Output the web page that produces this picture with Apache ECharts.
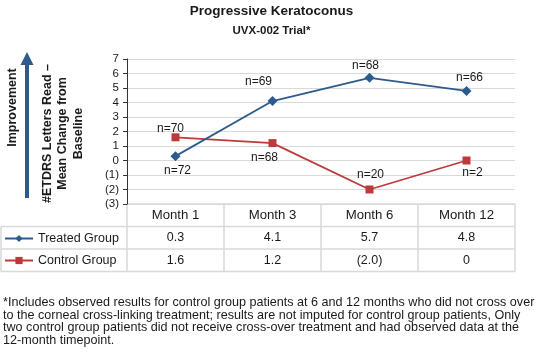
<!DOCTYPE html>
<html>
<head>
<meta charset="utf-8">
<script src="https://cdn.jsdelivr.net/npm/echarts@6/dist/echarts.min.js"></script>
<style>html,body{margin:0;padding:0;background:#fff}#c{width:543px;height:363px}</style>
</head>
<body>
<div id="c"></div>
<script>
const categories = ['Month 1', 'Month 3', 'Month 6', 'Month 12'];
const treatedValues = [0.3, 4.1, 5.7, 4.8];
const controlValues = [1.6, 1.2, -2.0, 0];
const treatedN = [72, 69, 68, 66];
const controlN = [70, 68, 20, 2];
const yMin = -3, yMax = 7, yInterval = 1;
const seriesNames = ['Treated Group', 'Control Group'];
const titleText = 'Progressive Keratoconus';
const subtitleText = 'UVX-002 Trial*';
const yAxisTitle = '#ETDRS Letters Read \u2013\nMean Change from\nBaseline';
const arrowText = 'Improvement';
const footnote = '*Includes observed results for control group patients at 6 and 12 months who did not cross over\nto the corneal cross-linking treatment; results are not imputed for control group patients, Only\ntwo control group patients did not receive cross-over treatment and had observed data at the\n12-month timepoint.';

// label layout (style only)
const treatedLabelLayout = [['bottom', [2, -1]], ['top', [-14, -3]], ['top', [-4, 4]], ['top', [3, 3]]];
const controlLabelLayout = [['top', [-5, 6]], ['bottom', [-8, 0]], ['top', [1, 0]], ['bottom', [6, -3]]];

const FONT = '"Liberation Sans", Arial, Helvetica, sans-serif';
const BLUE = '#2d5b8b';
const RED = '#be3a3a';
const GRID_GREY = '#d9d9d9';
const TEXT = '#1a1a1a';

function fmtTable(v) {
  if (v < 0) return '(' + Math.abs(v).toFixed(1) + ')';
  if (v === 0) return '0';
  return v.toFixed(1);
}
function fmtAxis(v) {
  return v < 0 ? '(' + Math.abs(v) + ')' : String(v);
}

const chart = echarts.init(document.getElementById('c'), null, {renderer: 'canvas'});

function mkData(vals, layout) {
  return vals.map((v, i) => ({
    value: v,
    label: {position: layout[i][0], offset: layout[i][1]}
  }));
}

chart.setOption({
  animation: false,
  textStyle: {fontFamily: FONT},
  title: {
    text: titleText,
    subtext: subtitleText,
    left: 'center',
    top: -1,
    itemGap: 7,
    textStyle: {fontFamily: FONT, fontSize: 13.5, fontWeight: 'bold', color: TEXT},
    subtextStyle: {fontFamily: FONT, fontSize: 11.5, fontWeight: 'bold', color: TEXT}
  },
  legend: {
    orient: 'vertical',
    left: 4,
    top: 232,
    padding: 0,
    itemWidth: 28,
    itemHeight: 9,
    itemGap: 9,
    textStyle: {fontFamily: FONT, fontSize: 12.5, color: TEXT},
    selectedMode: false,
    data: seriesNames
  },
  grid: {left: 127, right: 28, top: 59, bottom: 159, containLabel: false},
  xAxis: {
    type: 'category',
    data: categories,
    boundaryGap: true,
    axisLine: {onZero: false, lineStyle: {color: GRID_GREY, width: 1.5}},
    axisTick: {show: true, length: 22.5, inside: false, interval: 0, lineStyle: {color: GRID_GREY, width: 1.5}},
    axisLabel: {fontFamily: FONT, fontSize: 13.2, color: TEXT, margin: 5, interval: 0},
    z: 1
  },
  yAxis: {
    type: 'value',
    min: yMin, max: yMax, interval: yInterval,
    axisLine: {show: true, lineStyle: {color: '#333', width: 1}},
    axisTick: {show: true, length: 4, lineStyle: {color: '#333'}},
    axisLabel: {fontFamily: FONT, fontSize: 11.5, color: TEXT, margin: 8, formatter: fmtAxis},
    splitLine: {show: true, lineStyle: {color: GRID_GREY, width: 1}},
    z: 3
  },
  series: [
    {
      name: seriesNames[0], type: 'line',
      data: mkData(treatedValues, treatedLabelLayout),
      symbol: 'diamond', symbolSize: 10,
      itemStyle: {color: BLUE}, lineStyle: {color: BLUE, width: 1.8},
      label: {show: true, fontFamily: FONT, fontSize: 12, color: TEXT,
        formatter: p => 'n=' + treatedN[p.dataIndex]},
      z: 5
    },
    {
      name: seriesNames[1], type: 'line',
      data: mkData(controlValues, controlLabelLayout),
      symbol: 'rect', symbolSize: 8,
      itemStyle: {color: RED}, lineStyle: {color: RED, width: 1.8},
      label: {show: true, fontFamily: FONT, fontSize: 12, color: TEXT,
        formatter: p => 'n=' + controlN[p.dataIndex]},
      z: 4
    }
  ]
});

// build the table and annotations from the axis scales
const x0 = chart.convertToPixel({xAxisIndex: 0}, categories[0]);
const x1 = chart.convertToPixel({xAxisIndex: 0}, categories[1]);
const band = x1 - x0;
const yBottom = chart.convertToPixel({yAxisIndex: 0}, yMin);
const yTop = chart.convertToPixel({yAxisIndex: 0}, yMax);
const rowH = 22.5;
const leftEdge = x0 - band / 2;
const rightEdge = chart.convertToPixel({xAxisIndex: 0}, categories[categories.length - 1]) + band / 2;

const g = [];
for (let r = 1; r <= 3; r++) {
  g.push({type: 'line', id: 'h' + r, shape: {x1: 1, y1: yBottom + rowH * r, x2: rightEdge, y2: yBottom + rowH * r},
    style: {stroke: GRID_GREY, lineWidth: 1.5}, z: 1});
}
g.push({type: 'line', id: 'vl', shape: {x1: 1, y1: yBottom + rowH, x2: 1, y2: yBottom + rowH * 3},
  style: {stroke: GRID_GREY, lineWidth: 1.5}, z: 1});
for (let i = 0; i <= categories.length; i++) {
  const xx = leftEdge + band * i;
  g.push({type: 'line', id: 'v' + i, shape: {x1: xx, y1: yBottom + rowH, x2: xx, y2: yBottom + rowH * 3},
    style: {stroke: GRID_GREY, lineWidth: 1.5}, z: 1});
}
[treatedValues, controlValues].forEach((vals, r) => {
  vals.forEach((v, i) => {
    g.push({type: 'text', id: 't' + r + '_' + i,
      x: chart.convertToPixel({xAxisIndex: 0}, categories[i]),
      y: yBottom + rowH * (r + 1) + rowH / 2,
      style: {text: fmtTable(v), fontFamily: FONT, fontSize: 12.5, fill: TEXT, align: 'center', verticalAlign: 'middle'},
      z: 2});
  });
});
const arrowX = 27;
g.push({type: 'line', id: 'arrowShaft', shape: {x1: arrowX, y1: 62, x2: arrowX, y2: yBottom - 6},
  style: {stroke: BLUE, lineWidth: 4}, z: 2});
g.push({type: 'polygon', id: 'arrowHead', shape: {points: [[arrowX, 52], [arrowX - 6.5, 65], [arrowX + 6.5, 65]]},
  style: {fill: BLUE}, z: 2});
g.push({type: 'text', id: 'impr', x: 13, y: (yTop + yBottom) / 2 - 24, rotation: Math.PI / 2,
  style: {text: arrowText, fontFamily: FONT, fontSize: 12.5, fontWeight: 'bold', fill: TEXT, align: 'center', verticalAlign: 'middle'}, z: 2});
g.push({type: 'text', id: 'ytitle', x: 63, y: (yTop + yBottom) / 2 + 2, rotation: Math.PI / 2,
  style: {text: yAxisTitle, fontFamily: FONT, fontSize: 12.5, fontWeight: 'bold', fill: TEXT, align: 'center', verticalAlign: 'middle', lineHeight: 15.5}, z: 2});
g.push({type: 'text', id: 'foot', x: 3, y: 296,
  style: {text: footnote, fontFamily: FONT, fontSize: 12.6, fill: TEXT, lineHeight: 12.7, align: 'left', verticalAlign: 'top'}, z: 2});

chart.setOption({graphic: g});
</script>
</body>
</html>
